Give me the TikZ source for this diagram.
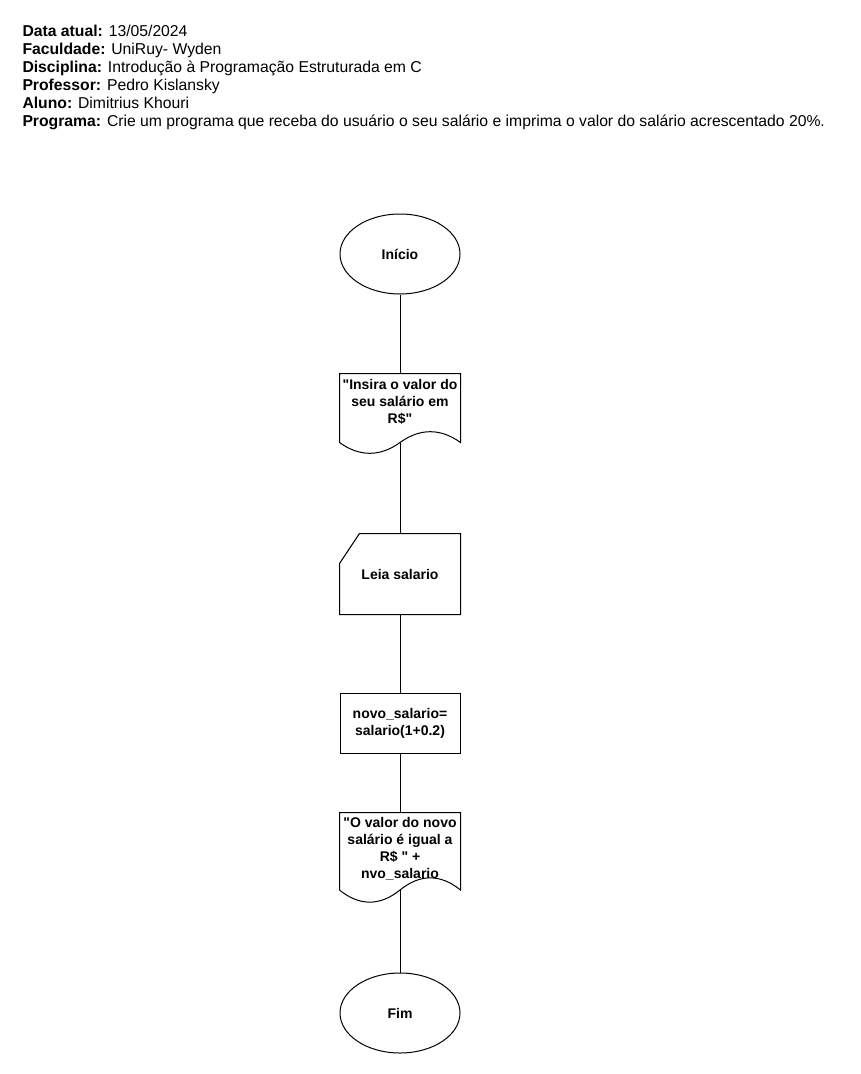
\documentclass[tikz,border=0pt]{standalone}
\usepackage{fontspec}
\setmainfont{Liberation Sans}
\usetikzlibrary{calc,positioning,shapes.geometric}

\begin{document}
\begin{tikzpicture}[x=0.75pt,y=-0.75pt,line width=0.75pt,
  every node/.style={font=\bfseries\fontsize{10.5}{12.75}\selectfont, align=center, inner sep=0pt},
  term/.style={ellipse, draw, minimum width=90pt, minimum height=60pt},
  docbox/.style={rectangle, minimum width=90pt, minimum height=60pt},
  cardbox/.style={rectangle, minimum width=90pt, minimum height=60pt},
  procbox/.style={rectangle, draw, minimum width=90pt, minimum height=45pt}]
\path[use as bounding box, fill=white] (0,0) rectangle (860,1074);

% header
\node[anchor=north west, align=left, font=\fontsize{11.8}{13.5}\selectfont] (head) at (22,25)
  {\textbf{Data atual:} 13/05/2024\\
   \textbf{Faculdade:} UniRuy- Wyden\\
   \textbf{Disciplina:} Introdução à Programação Estruturada em C\\
   \textbf{Professor:} Pedro Kislansky\\
   \textbf{Aluno:} Dimitrius Khouri\\
   \textbf{Programa:} Crie um programa que receba do usuário o seu salário e imprima o valor do salário acrescentado 20\%.};

% fluxograma
\node[term] (ini) at (400,254) {Início};
\node[docbox] (doc1) at (400,414) {};
\node (doc1txt) at (400,402) {\textquotedbl Insira o valor do\\seu salário em\\R\$\textquotedbl};
\node[cardbox] (card) at (400,574) {Leia salario};
\node[procbox] (proc) at (400,723) {novo\_salario=\\salario(1+0.2)};
\node[docbox, minimum height=67.5pt] (doc2) at (400,858) {};
\node (doc2txt) at (400,849) {\textquotedbl O valor do novo\\salário é igual a\\R\$ \textquotedbl{} +\\nvo\_salario};
\node[term] (fim) at (400,1013) {Fim};

\draw (doc1.north west) -- (doc1.north east) -- ($(doc1.south east)+(0,-12)$)
    .. controls +(-20,-14.4) and +(20,-14.4) .. ($(doc1.south)+(0,-12)$) coordinate (doc1w)
    .. controls +(-20,14.4) and +(20,14.4) .. ($(doc1.south west)+(0,-12)$) -- cycle;
\draw ($(card.north west)+(0,30)$) -- ($(card.north west)+(20,0)$) -- (card.north east)
    -- (card.south east) -- (card.south west) -- cycle;
\draw (doc2.north west) -- (doc2.north east) -- ($(doc2.south east)+(0,-13.5)$)
    .. controls +(-20,-16.2) and +(20,-16.2) .. ($(doc2.south)+(0,-13.5)$) coordinate (doc2w)
    .. controls +(-20,16.2) and +(20,16.2) .. ($(doc2.south west)+(0,-13.5)$) -- cycle;

\draw (ini.south) -- (doc1.north)
    (doc1w) -- (card.north)
    (card.south) -- (proc.north)
    (proc.south) -- (doc2.north)
    (doc2w) -- (fim.north);

\end{tikzpicture}
\end{document}
